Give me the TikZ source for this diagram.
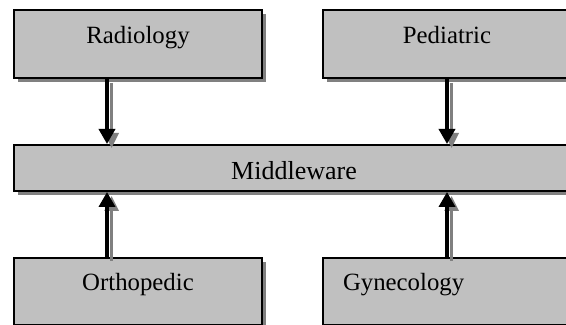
\documentclass[tikz,border=0pt]{standalone}
\usepackage{fontspec}
\setmainfont{Liberation Serif}
\usetikzlibrary{arrows.meta, positioning, shadows}
\definecolor{boxgray}{RGB}{192, 192, 192}
\definecolor{shadegray}{RGB}{128, 128, 128}

\begin{document}
\begin{tikzpicture}[x=0.5pt, y=-0.5pt]
            \tikzstyle{block} = [rectangle, draw=black, line width=1pt, fill=boxgray, inner xsep=0pt, inner ysep=0pt, minimum width=124pt, text height=17pt, text depth=17pt, font=\fontsize{12.4pt}{14pt}\selectfont, drop shadow={shadow xshift=2.2pt, shadow yshift=-2pt, fill=shadegray, opacity=1}]
            \tikzstyle{flow} = [line width=1.75pt, -{Triangle[length=7.5pt, width=8pt]}, preaction={draw=shadegray, line width=1.4pt, -{Triangle[length=7.5pt, width=7pt]}, transform canvas={shift={(2.3pt,-2pt)}}}]

            \useasboundingbox (0,0) rectangle (566,325);

            \node[block, anchor=north west] (rad) at (13,9) {Radiology};
            \node[block, anchor=north west] (ped) at (322,9) {Pediatric};
            \node[block, anchor=north west, minimum width=280pt, text height=17.5pt, text depth=5.5pt, font=\fontsize{13pt}{15pt}\selectfont] (mid) at (13,144) {Middleware};
            \node[block, anchor=north west, text height=16.5pt] (orth) at (13,257) {Orthopedic};
            \node[block, anchor=north west, text height=16.5pt, inner xsep=10pt, text width=104pt, align=left] (gyn) at (322,257) {Gynecology};

            \draw[flow] ([xshift=-15.5pt]rad.south) -- ([xshift=-15.5pt]rad.south |- mid.north);
            \draw[flow] (ped.south) -- (ped.south |- mid.north);
            \draw[flow] ([xshift=-15.5pt]orth.north) -- ([xshift=-15.5pt]orth.north |- mid.south);
            \draw[flow] (gyn.north) -- (gyn.north |- mid.south);
        \end{tikzpicture}
\end{document}
